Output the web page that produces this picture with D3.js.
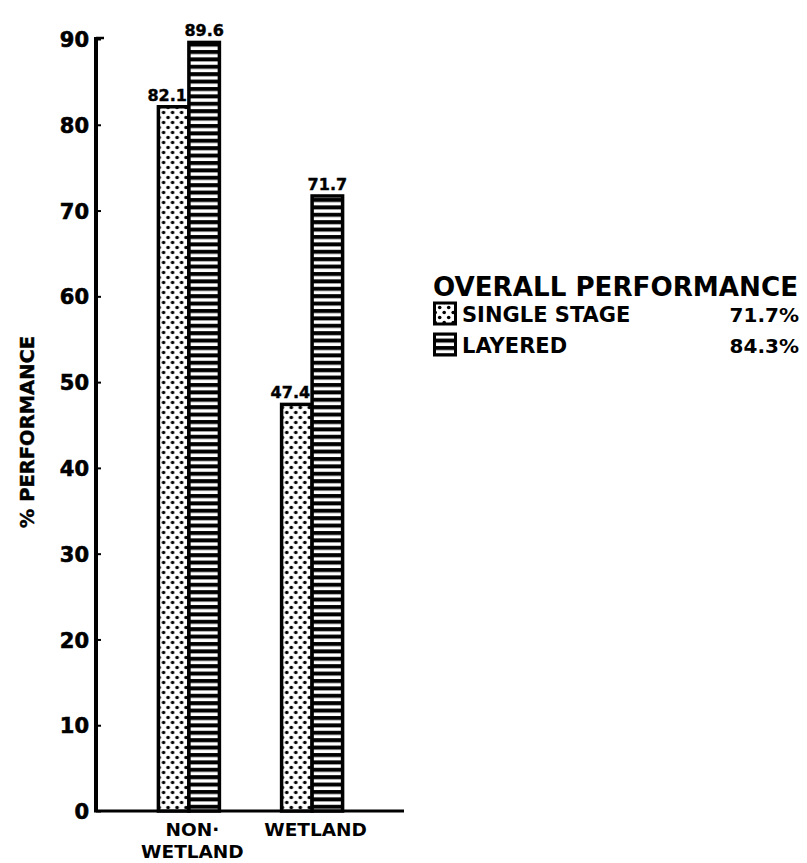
<!DOCTYPE html>
<html lang="en">
<head>
<meta charset="UTF-8">
<title>% Performance</title>
<script src="https://cdnjs.cloudflare.com/ajax/libs/d3/7.8.5/d3.min.js"></script>
<style>
  body { margin: 0; background: #fff; }
  svg { display: block; }
  text { font-family: "DejaVu Sans", sans-serif; font-weight: bold; fill: #000; }
</style>
</head>
<body>
<svg id="chart" width="807" height="863"></svg>
<script>
// data
var categories = ["NON-WETLAND", "WETLAND"];
var catLines = [["NON·", "WETLAND"], ["WETLAND"]];
var series = ["SINGLE STAGE", "LAYERED"];
var singleStage = [82.1, 47.4];
var layered = [89.6, 71.7];
var overall = ["71.7%", "84.3%"];
var yTicks = [0, 10, 20, 30, 40, 50, 60, 70, 80, 90];

var svg = d3.select("#chart");

// fill patterns
var defs = svg.append("defs");
var dots = defs.append("pattern")
  .attr("id", "dots")
  .attr("patternUnits", "userSpaceOnUse")
  .attr("width", 9).attr("height", 10);
dots.append("rect").attr("width", 9).attr("height", 10).attr("fill", "#fff");
dots.append("circle").attr("cx", 2.2).attr("cy", 2.5).attr("r", 1.8).attr("fill", "#000");
dots.append("circle").attr("cx", 6.7).attr("cy", 7.5).attr("r", 1.8).attr("fill", "#000");

var stripes = defs.append("pattern")
  .attr("id", "stripes")
  .attr("patternUnits", "userSpaceOnUse")
  .attr("width", 10).attr("height", 7.4);
stripes.append("rect").attr("width", 10).attr("height", 7.4).attr("fill", "#000");
stripes.append("rect").attr("y", 2.2).attr("width", 10).attr("height", 3.4).attr("fill", "#fff");

var fills = ["url(#dots)", "url(#stripes)"];

var y = d3.scaleLinear().domain([0, 90]).range([811, 39]);
var x0 = d3.scalePoint().domain(categories).range([96, 404]).padding(0.75);
var x1 = d3.scaleBand().domain(series).range([-30, 31]).padding(0);

// y axis
var yAxis = svg.append("g")
  .attr("transform", "translate(96,0)")
  .call(d3.axisLeft(y).tickValues(yTicks).tickSize(-5).tickPadding(7).tickFormat(d3.format("d")));
yAxis.select(".domain").remove();
yAxis.selectAll(".tick line").attr("stroke", "#000").attr("stroke-width", 2);
yAxis.selectAll(".tick text")
  .attr("dy", "0.36em")
  .style("font-size", "21px")
  .style("font-family", "DejaVu Sans, sans-serif")
  .style("font-weight", "bold")
  .style("stroke", "#000")
  .style("stroke-width", "0.6px");

svg.append("line")
  .attr("x1", 96).attr("x2", 96)
  .attr("y1", y(90) - 2).attr("y2", y(0) + 1)
  .attr("stroke", "#000").attr("stroke-width", 4);
svg.append("line")
  .attr("x1", 96).attr("x2", 104)
  .attr("y1", y(90) - 1).attr("y2", y(90) - 1)
  .attr("stroke", "#000").attr("stroke-width", 2.5);

// x baseline
svg.append("line")
  .attr("x1", 94).attr("x2", 404)
  .attr("y1", y(0)).attr("y2", y(0))
  .attr("stroke", "#000").attr("stroke-width", 3);

svg.append("text")
  .attr("transform", "translate(34," + ((y(0) + y(90)) / 2 + 7) + ") rotate(-90)")
  .attr("text-anchor", "middle")
  .style("font-size", "19.5px")
  .style("stroke", "#000")
  .style("stroke-width", "0.4px")
  .text("% PERFORMANCE");

// bars
var rows = categories.map(function(c, i) {
  return { cat: c, vals: [singleStage[i], layered[i]] };
});

var groups = svg.selectAll("g.group")
  .data(rows)
  .enter().append("g")
  .attr("class", "group")
  .attr("transform", function(d) { return "translate(" + x0(d.cat) + ",0)"; });

groups.selectAll("rect")
  .data(function(d) { return d.vals.map(function(v, j) { return { s: series[j], v: v, j: j }; }); })
  .enter().append("rect")
  .attr("x", function(d) { return x1(d.s); })
  .attr("width", x1.bandwidth())
  .attr("y", function(d) { return y(d.v); })
  .attr("height", function(d) { return y(0) - y(d.v); })
  .attr("fill", function(d) { return fills[d.j]; })
  .attr("stroke", "#000")
  .attr("stroke-width", 3.5);

// single stage labels sit left so they clear the taller neighbour
groups.selectAll("text.val")
  .data(function(d) { return d.vals.map(function(v, j) { return { s: series[j], v: v, j: j }; }); })
  .enter().append("text")
  .attr("class", "val")
  .attr("x", function(d) {
    return d.j === 0 ? x1(d.s) + x1.bandwidth() - 2 : x1(d.s) + x1.bandwidth() / 2;
  })
  .attr("y", function(d) { return y(d.v) - 6; })
  .attr("text-anchor", function(d) { return d.j === 0 ? "end" : "middle"; })
  .style("font-size", "16px")
  .style("stroke", "#000")
  .style("stroke-width", "0.4px")
  .text(function(d) { return d3.format(".1f")(d.v); });

// category labels
categories.forEach(function(c, i) {
  var t = svg.append("text")
    .attr("x", x0(c) + 4)
    .attr("y", 836)
    .attr("text-anchor", "middle")
    .style("font-size", "18.5px");
  catLines[i].forEach(function(line, k) {
    t.append("tspan")
      .attr("x", x0(c) + 4)
      .attr("dy", k === 0 ? 0 : 22)
      .text(line);
  });
});

// legend
var legend = svg.append("g").attr("transform", "translate(433,0)");
legend.append("text")
  .attr("x", 0).attr("y", 296)
  .attr("textLength", 365)
  .attr("lengthAdjust", "spacingAndGlyphs")
  .style("font-size", "26px")
  .text("OVERALL PERFORMANCE");

series.forEach(function(s, i) {
  var top = 303 + i * 31;
  legend.append("rect")
    .attr("x", 1.5).attr("y", top)
    .attr("width", 21).attr("height", 21)
    .attr("fill", fills[i])
    .attr("stroke", "#000").attr("stroke-width", 3);
  legend.append("text")
    .attr("x", 29).attr("y", top + 19)
    .style("font-size", "21px")
    .text(s);
  legend.append("text")
    .attr("x", 366).attr("y", top + 19)
    .attr("text-anchor", "end")
    .style("font-size", "20px")
    .text(overall[i]);
});
</script>
</body>
</html>
